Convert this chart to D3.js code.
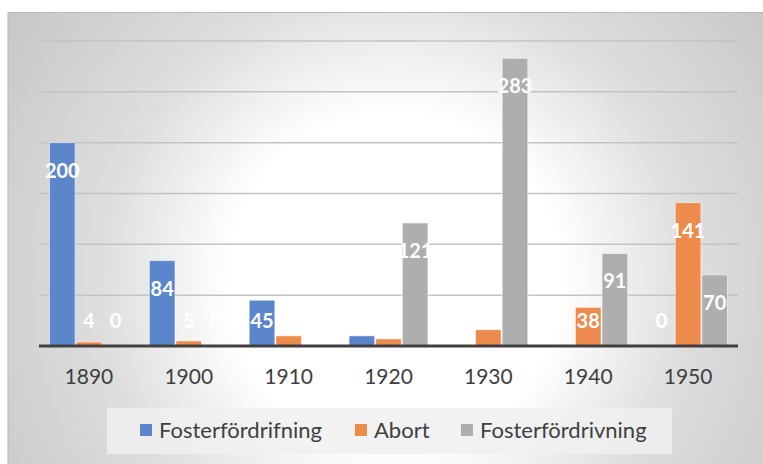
<!DOCTYPE html>
<html><head><meta charset="utf-8">
<script src="https://cdn.jsdelivr.net/npm/d3@7/dist/d3.min.js"></script>
<style>html,body{margin:0;padding:0;background:#fff;}svg{display:block;}</style>
</head><body>
<script>
const years = ["1890","1900","1910","1920","1930","1940","1950"];
const seriesNames = ["Fosterfördrifning","Abort","Fosterfördrivning"];
const fosterfordrifning = [200, 84, 45, 10, 0, 0, 0];
const abort = [4, 5, 10, 7, 16, 38, 141];
const fosterfordrivning = [0, 0, 0, 121, 283, 91, 70];
const colors = ["#5b86cc", "#ec8b4b", "#aeaeae"];
const gridTicks = [50, 100, 150, 200, 250, 300];

const W = 763, H = 464;
const svg = d3.select("body").append("svg").attr("width", W).attr("height", H);
const defs = svg.append("defs");
const rg = defs.append("radialGradient").attr("id","bg").attr("gradientUnits","userSpaceOnUse")
  .attr("cx",395).attr("cy",280).attr("r",490);
rg.append("stop").attr("offset",0).attr("stop-color","#ffffff");
rg.append("stop").attr("offset",0.34).attr("stop-color","#ffffff");
rg.append("stop").attr("offset",0.6).attr("stop-color","#dedede");
rg.append("stop").attr("offset",1).attr("stop-color","#c4c4c4");

svg.append("rect").attr("x",8).attr("y",12).attr("width",W-8).attr("height",H-12)
  .attr("fill","url(#bg)");
svg.append("path").attr("d",`M8,${H} V12.5 H${W}`).attr("fill","none").attr("stroke","#b8b8b8").attr("stroke-width",1);

const data = years.map((y,i)=>({year:y, values:[fosterfordrifning[i], abort[i], fosterfordrivning[i]]}));

const x0 = d3.scaleBand().domain(years).range([39,738]).paddingInner(0.2).paddingOuter(0.1);
const x1 = d3.scaleBand().domain([0,1,2]).range([0,x0.bandwidth()]).padding(0);
const y = d3.scaleLinear().domain([0,300]).range([346,41]);

// gridlines
svg.append("g").selectAll("line").data(gridTicks).join("line")
  .attr("x1",39).attr("x2",738).attr("y1",d=>y(d)).attr("y2",d=>y(d))
  .attr("stroke","#c3c3c3").attr("stroke-width",1.5);

// bars
const groups = svg.append("g").selectAll("g").data(data).join("g")
  .attr("transform",d=>`translate(${x0(d.year)},0)`);
groups.selectAll("rect").data(d=>d.values.map((v,k)=>({v,k}))).join("rect")
  .attr("x",d=>x1(d.k)+0.5).attr("width",x1.bandwidth()-1)
  .attr("y",d=>y(d.v)).attr("height",d=>Math.max(0,y(0)-y(d.v)))
  .attr("fill",d=>colors[d.k])
  .attr("stroke",d=>d.v>0?"rgba(255,255,255,0.55)":"none").attr("stroke-width",1);

// axis
const xAxis = d3.axisBottom(x0).tickSize(0).tickPadding(0);
const ax = svg.append("g").attr("transform",`translate(0,${y(0)})`).call(xAxis);
ax.select(".domain").remove();
svg.append("line").attr("x1",39).attr("x2",738).attr("y1",y(0)).attr("y2",y(0))
  .attr("stroke","#404040").attr("stroke-width",3);
ax.selectAll("text").attr("y",38).attr("dy",0)
  .attr("font-family","Lato, 'Open Sans', sans-serif").attr("font-size",21).attr("fill","#404040");

// labels
groups.selectAll("text.lbl").data(d=>d.values.map((v,k)=>({v,k}))).join("text")
  .attr("class","lbl")
  .attr("x",d=>x1(d.k)+x1.bandwidth()/2)
  .attr("y",d=>Math.min(y(d.v)+28, y(0)-25)+7)
  .attr("text-anchor","middle")
  .attr("font-family","Lato, 'Open Sans', sans-serif").attr("font-weight","bold").attr("font-size",20)
  .attr("fill","#ffffff").text(d=>d.v);

// legend
const lg = svg.append("g");
lg.append("rect").attr("x",107).attr("y",408).attr("width",565).attr("height",46)
  .attr("fill","#f0f0f0").attr("opacity",0.85);
const legX = [140, 355, 461];
const item = lg.selectAll("g").data(seriesNames).join("g")
  .attr("transform",(d,i)=>`translate(${legX[i]},424)`);
item.append("rect").attr("width",12).attr("height",12).attr("fill",(d,i)=>colors[i]);
item.append("text").attr("x",19).attr("y",13.5).text(d=>d)
  .attr("font-family","Lato, 'Open Sans', sans-serif").attr("font-size",22).attr("fill","#404040");
</script>
</body></html>
